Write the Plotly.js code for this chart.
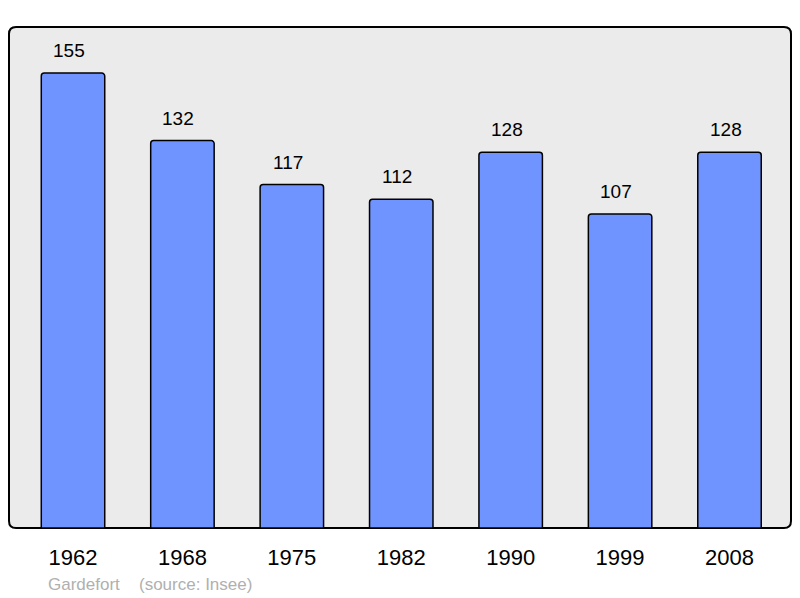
<!DOCTYPE html>
<html><head><meta charset="utf-8">
<script src="https://cdn.plot.ly/plotly-3.0.1.min.js"></script>
<style>html,body{margin:0;padding:0;background:#fff}#c{width:800px;height:598px}</style>
</head><body><div id="c"></div>
<script>
const years = ['1962','1968','1975','1982','1990','1999','2008'];
const population = [155, 132, 117, 112, 128, 107, 128];
const footerName = 'Gardefort';
const footerSource = '(source: Insee)';

const FONT = 'Liberation Sans, Arial, sans-serif';
const xs = years.map((_, i) => i);
const W = 782, H = 501, r = 7;
const rx = r / W, ry = r / H;
const framePath = `M ${rx} 0 L ${1-rx} 0 Q 1 0 1 ${ry} L 1 ${1-ry} Q 1 1 ${1-rx} 1 L ${rx} 1 Q 0 1 0 ${1-ry} L 0 ${ry} Q 0 0 ${rx} 0 Z`;

const trace = {
  type: 'bar', x: xs, y: population, width: 0.58,
  marker: {color: '#7094ff', line: {color: '#000', width: 1.5}, cornerradius: 3},
  hoverinfo: 'none'
};
const annotations = population.map((v, i) => ({
  x: i, y: v, xref: 'x', yref: 'y', text: String(v), showarrow: false,
  yanchor: 'bottom', yshift: 10, xshift: -4, font: {family: FONT, size: 19, color: '#000'}
}));
annotations.push({
  xref: 'paper', yref: 'paper', x: (46-9)/W, y: -(584-528)/H, xanchor: 'left', yanchor: 'middle',
  text: footerName, showarrow: false, font: {family: FONT, size: 17, color: '#b0b0b0'}
});
annotations.push({
  xref: 'paper', yref: 'paper', x: (137-9)/W, y: -(584-528)/H, xanchor: 'left', yanchor: 'middle',
  text: footerSource, showarrow: false, font: {family: FONT, size: 17, color: '#b0b0b0'}
});

const layout = {
  width: 800, height: 598,
  margin: {l: 9, r: 9, t: 27, b: 70, pad: 0},
  paper_bgcolor: '#fff', plot_bgcolor: 'rgba(0,0,0,0)',
  showlegend: false,
  xaxis: {range: [-0.585, 6.562], tickvals: xs, ticktext: years, showgrid: false, zeroline: false,
    showline: false, ticks: '', ticklabelstandoff: 14,
    tickfont: {family: FONT, size: 22, color: '#000'}, fixedrange: true},
  yaxis: {range: [0, 170.7], showgrid: false, zeroline: false, showticklabels: false, showline: false, ticks: '', fixedrange: true},
  shapes: [{type: 'path', xref: 'paper', yref: 'paper', path: framePath, fillcolor: '#ebebeb', line: {color: '#000', width: 2}, layer: 'below'}],
  annotations: annotations
};
Plotly.newPlot('c', [trace], layout, {displayModeBar: false, staticPlot: true});
</script></body></html>
